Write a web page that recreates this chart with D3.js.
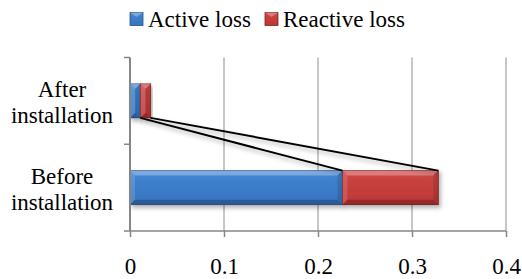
<!DOCTYPE html>
<html>
<head>
<meta charset="utf-8">
<script src="https://cdn.jsdelivr.net/npm/d3@7"></script>
<style>
  body { margin: 0; background: #fff; }
  svg { display: block; }
</style>
</head>
<body>
<div id="chart"></div>
<script>
// chart data
const categories = ["After installation", "Before installation"];
const seriesNames = ["Active loss", "Reactive loss"];
const activeLoss = [0.011, 0.226];
const reactiveLoss = [0.011, 0.102];
const xTicks = [0, 0.1, 0.2, 0.3, 0.4];

const W = 522, H = 279;
const plot = { left: 130, right: 506, top: 57.5, bottom: 231 };
const FONT = '"Liberation Serif", "Times New Roman", serif';
const FONT_SIZE = '23px';

const svg = d3.select('#chart').append('svg')
    .attr('width', W)
    .attr('height', H);

const defs = svg.append('defs');

// gradients for the bevelled look
const palettes = {
    blue: ['#4a8ad6', '#3e7fcc', '#3a79c5', '#3673be'],
    red: ['#d24b49', '#c8413f', '#c23c3a', '#b93634']
};
Object.entries(palettes).forEach(([name, cols]) => {
    const g = defs.append('linearGradient')
        .attr('id', 'grad-' + name)
        .attr('x1', 0).attr('y1', 0).attr('x2', 0).attr('y2', 1);
    [0, 0.3, 0.7, 1].forEach((o, i) => {
        g.append('stop').attr('offset', o).attr('stop-color', cols[i]);
    });
});

const shadow = defs.append('filter').attr('id', 'shadow')
    .attr('x', '-10%').attr('y', '-20%').attr('width', '130%').attr('height', '160%');
shadow.append('feDropShadow')
    .attr('dx', 2).attr('dy', 3).attr('stdDeviation', 2)
    .attr('flood-color', '#000').attr('flood-opacity', 0.3);

const x = d3.scaleLinear()
    .domain([0, 0.4])
    .range([plot.left, plot.right]);

const y = d3.scaleBand()
    .domain(categories)
    .range([plot.top, plot.bottom])
    .paddingInner(0.608)
    .paddingOuter(0.304);

// gridlines
svg.append('g')
    .selectAll('line')
    .data(xTicks.slice(1))
    .join('line')
    .attr('x1', d => x(d)).attr('x2', d => x(d))
    .attr('y1', plot.top).attr('y2', plot.bottom)
    .attr('stroke', '#8e8e8e')
    .attr('stroke-width', 1);

// stacked rows
const stacked = categories.map((c, i) => ({
    cat: c,
    parts: [
        { key: 'blue', x0: 0, x1: activeLoss[i] },
        { key: 'red', x0: activeLoss[i], x1: activeLoss[i] + reactiveLoss[i] }
    ]
}));

const edge = { blue: '#2b5488', red: '#7e2322' };

const segs = stacked.flatMap(d => d.parts.map(p => ({ ...p, cat: d.cat })));

const bars = svg.append('g').selectAll('g')
    .data(segs)
    .join('g');

bars.append('rect')
    .attr('x', d => x(d.x0))
    .attr('y', d => y(d.cat))
    .attr('width', d => x(d.x1) - x(d.x0))
    .attr('height', y.bandwidth())
    .attr('fill', d => `url(#grad-${d.key})`)
    .attr('stroke', d => edge[d.key])
    .attr('stroke-width', 0.8)
    .attr('filter', 'url(#shadow)');

// bevel facets
const bevels = [
    { side: 'top', fill: '#fff', op: 0.28 },
    { side: 'left', fill: '#fff', op: 0.14 },
    { side: 'bottom', fill: '#000', op: 0.22 },
    { side: 'right', fill: '#000', op: 0.12 }
];
function bevelPts(d, side) {
    const x0 = x(d.x0), x1 = x(d.x1), y0 = y(d.cat), y1 = y0 + y.bandwidth();
    const b = Math.min(5, (x1 - x0) / 2, (y1 - y0) / 2);
    if (side === 'top') return [[x0, y0], [x1, y0], [x1 - b, y0 + b], [x0 + b, y0 + b]];
    if (side === 'bottom') return [[x0, y1], [x1, y1], [x1 - b, y1 - b], [x0 + b, y1 - b]];
    if (side === 'left') return [[x0, y0], [x0 + b, y0 + b], [x0 + b, y1 - b], [x0, y1]];
    return [[x1, y0], [x1 - b, y0 + b], [x1 - b, y1 - b], [x1, y1]];
}
bevels.forEach(bv => {
    bars.append('polygon')
        .attr('points', d => bevelPts(d, bv.side).map(p => p.join(',')).join(' '))
        .attr('fill', bv.fill)
        .attr('fill-opacity', bv.op);
});

// series lines between the stacked segments
const catTop = categories[0], catBottom = categories[1];
const seriesLines = [
    [activeLoss[0], activeLoss[1]],
    [activeLoss[0] + reactiveLoss[0], activeLoss[1] + reactiveLoss[1]]
];
svg.append('g')
    .attr('filter', 'url(#shadow)')
    .selectAll('line')
    .data(seriesLines)
    .join('line')
    .attr('x1', d => x(d[0]))
    .attr('y1', y(catTop) + y.bandwidth())
    .attr('x2', d => x(d[1]))
    .attr('y2', y(catBottom))
    .attr('stroke', '#000')
    .attr('stroke-width', 2);

// axes
const axisColor = '#868686';
const xAxis = svg.append('g')
    .attr('transform', `translate(0,${plot.bottom})`)
    .call(d3.axisBottom(x).tickValues(xTicks).tickFormat(d3.format('')).tickSize(6).tickPadding(20));
xAxis.select('.domain').attr('stroke', axisColor).attr('stroke-width', 1.5)
    .attr('d', `M${plot.left - 6},0H${plot.right}`);
xAxis.selectAll('.tick line').attr('stroke', axisColor).attr('stroke-width', 1.5);
xAxis.selectAll('.tick text')
    .attr('fill', '#000')
    .attr('dy', null)
    .attr('y', 43)
    .style('font-size', FONT_SIZE)
    .style('font-family', FONT);

const yAxis = svg.append('g');
yAxis.append('line')
    .attr('x1', plot.left).attr('x2', plot.left)
    .attr('y1', plot.top).attr('y2', plot.bottom)
    .attr('stroke', axisColor).attr('stroke-width', 2);
const yTickPos = [plot.top, y(catBottom) - y.step() * y.paddingInner() / 2];
yAxis.selectAll('.ytick')
    .data(yTickPos)
    .join('line')
    .attr('class', 'ytick')
    .attr('x1', plot.left - 6).attr('x2', plot.left)
    .attr('y1', d => d).attr('y2', d => d)
    .attr('stroke', axisColor).attr('stroke-width', 1.5);

// category labels (two lines each)
const catLabels = svg.append('g').selectAll('text')
    .data(categories)
    .join('text')
    .attr('text-anchor', 'middle')
    .attr('x', 62)
    .attr('y', d => y(d) + y.bandwidth() / 2)
    .style('font-size', FONT_SIZE)
    .style('font-family', FONT)
    .attr('fill', '#000');
catLabels.each(function (d) {
    const words = d.split(' ');
    const t = d3.select(this);
    words.forEach((w, i) => {
        t.append('tspan')
            .attr('x', 62)
            .attr('dy', i === 0 ? -4 : 26)
            .text(w);
    });
});

// legend
const legend = svg.append('g');
const legendPos = [130, 265];
seriesNames.forEach((name, i) => {
    const key = i === 0 ? 'blue' : 'red';
    legend.append('rect')
        .attr('x', legendPos[i]).attr('y', 12.5)
        .attr('width', 13).attr('height', 13)
        .attr('fill', `url(#grad-${key})`)
        .attr('stroke', edge[key]).attr('stroke-width', 0.8);
    legend.append('polygon')
        .attr('points', [[legendPos[i], 12.5], [legendPos[i] + 13, 12.5], [legendPos[i] + 6.5, 17]].map(p => p.join(',')).join(' '))
        .attr('fill', '#fff').attr('fill-opacity', 0.3);
    legend.append('text')
        .attr('x', legendPos[i] + 18).attr('y', 26.5)
        .style('font-size', FONT_SIZE)
        .style('font-family', FONT)
        .attr('fill', '#000')
        .text(name);
});
</script>
</body>
</html>
